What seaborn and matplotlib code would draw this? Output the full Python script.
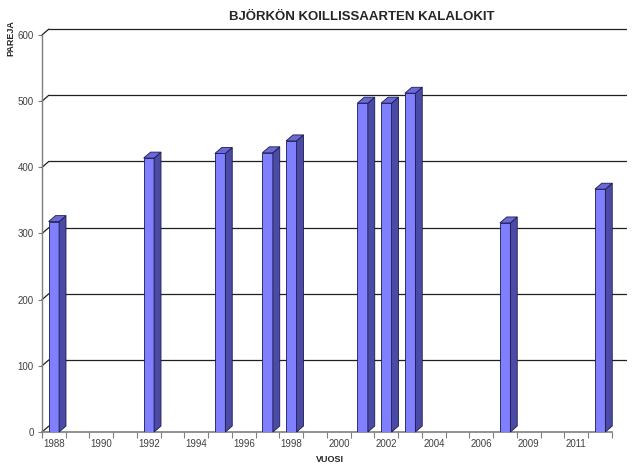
import pandas as pd
import seaborn as sns
import matplotlib.pyplot as plt
from matplotlib.patches import Polygon

# Category axis (2007 missing in the source sheet)
years = [str(y) for y in range(1988, 2007)] + [str(y) for y in range(2008, 2013)]
bar_years = ["1988", "1992", "1995", "1997", "1998", "2001", "2002", "2003", "2008", "2012"]
pareja = [318, 414, 421, 422, 440, 497, 497, 512, 316, 367]
label_years = years[::2]
yticks = [0, 100, 200, 300, 400, 500, 600]

FRONT = "#8080FF"
SIDE = "#4B4BA6"
TOP = "#6A6AD6"
EDGE = "#1A1A50"
GRID = "#202020"
AXIS = "#7F7F7F"

sns.set_style("white")
plt.rcParams["font.family"] = ["Liberation Sans", "DejaVu Sans"]

fig = plt.figure(figsize=(6.44, 4.72), dpi=100)
ax = fig.add_axes([42 / 644, 40 / 472, 570 / 644, 397 / 472])

df = pd.DataFrame({"vuosi": bar_years, "pareja": pareja})
sns.barplot(data=df, x="vuosi", y="pareja", order=years, color=FRONT,
            saturation=1, width=0.44, edgecolor=EDGE, linewidth=0.6,
            ax=ax, zorder=3)

ax.set_xlim(-0.5, len(years) - 0.5)
ax.set_ylim(0, 600)

# depth of the 3D look, in data units (about 7 px right, 6 px up)
dx = 0.29
dy = 9.0

# 3D faces for each bar
for p in list(ax.patches):
    x0, w, h = p.get_x(), p.get_width(), p.get_height()
    side = Polygon([(x0 + w, 0), (x0 + w + dx, dy), (x0 + w + dx, h + dy), (x0 + w, h)],
                   closed=True, facecolor=SIDE, edgecolor=EDGE, linewidth=0.6,
                   zorder=3, clip_on=False)
    top = Polygon([(x0, h), (x0 + dx, h + dy), (x0 + w + dx, h + dy), (x0 + w, h)],
                  closed=True, facecolor=TOP, edgecolor=EDGE, linewidth=0.6,
                  zorder=3, clip_on=False)
    ax.add_patch(side)
    ax.add_patch(top)

# back wall gridlines with diagonal connectors on the side wall
x_lo, x_hi = ax.get_xlim()
for v in yticks:
    ax.plot([x_lo, x_lo + dx], [v, v + dy], color=GRID, lw=0.9, zorder=1, clip_on=False)
    if v > 0:
        ax.plot([x_lo + dx, x_hi + 2 * dx], [v + dy, v + dy], color=GRID, lw=0.9,
                zorder=1, clip_on=False)

# axes styling
for s in ["top", "right"]:
    ax.spines[s].set_visible(False)
ax.spines["left"].set_color(AXIS)
ax.spines["bottom"].set_color(AXIS)
ax.spines["left"].set_linewidth(1.0)
ax.spines["bottom"].set_linewidth(1.2)

ax.set_yticks(yticks)
ax.set_yticklabels([str(v) for v in yticks])
ax.tick_params(axis="y", direction="out", length=3, width=0.8, color=AXIS,
               labelsize=7, labelcolor="#404040", pad=3, left=True)

ax.set_xticks([i - 0.5 for i in range(len(years) + 1)])
ax.set_xticklabels([])
ax.set_xticks(list(range(0, len(years), 2)), minor=True)
ax.set_xticklabels(label_years, minor=True)
ax.tick_params(axis="x", which="major", direction="out", length=4, width=0.8,
               color=AXIS, bottom=True)
ax.tick_params(axis="x", which="minor", length=0, labelsize=7,
               labelcolor="#404040", pad=5)

ax.set_xlabel("")
ax.set_ylabel("")

fig.text(362 / 644, 1 - 17 / 472, "BJÖRKÖN KOILLISSAARTEN KALALOKIT",
         ha="center", va="center", fontsize=9.5, fontweight="bold")
fig.text(330 / 644, 1 - 459 / 472, "VUOSI", ha="center", va="center",
         fontsize=6.5, fontweight="bold")
fig.text(11 / 644, 1 - 38 / 472, "PAREJA", ha="center", va="center",
         rotation=90, fontsize=6.5, fontweight="bold")

fig.savefig("out.png", dpi=100, facecolor="white")
